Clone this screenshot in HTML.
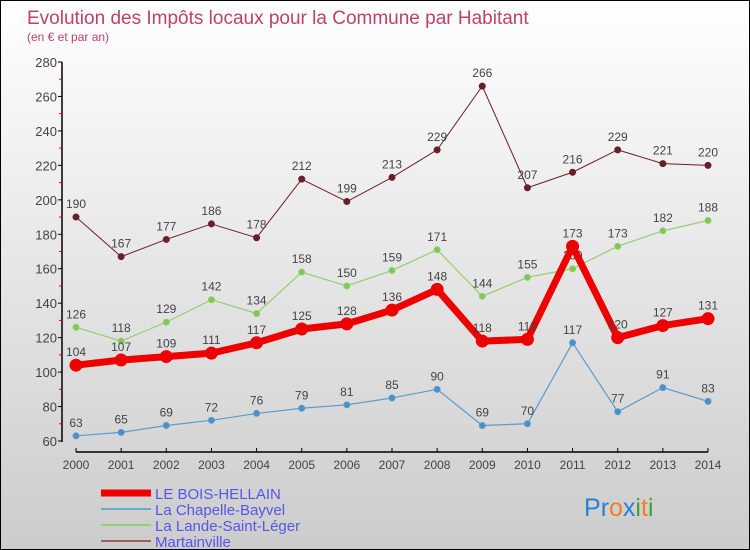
<!DOCTYPE html>
<html><head><meta charset="utf-8"><style>
body{margin:0}
#c{width:750px;height:550px;position:relative;box-sizing:border-box;border:1px solid #000;background:linear-gradient(#ffffff,#cccccc);font-family:"Liberation Sans",sans-serif;overflow:hidden}
svg text{font-family:"Liberation Sans",sans-serif}
</style></head><body>
<div id="c">
<svg id="s" width="750" height="550">
<text x="26" y="23" font-size="19" fill="#c0406a">Evolution des Impôts locaux pour la Commune par Habitant</text>
<text x="26" y="40" font-size="12" fill="#c0406a">(en € et par an)</text>
</svg>
</div>
<script>
const years=["2000","2001","2002","2003","2004","2005","2006","2007","2008","2009","2010","2011","2012","2013","2014"];
const yTicks=[60,80,100,120,140,160,180,200,220,240,260,280];
const boisHellain=[104,107,109,111,117,125,128,136,148,118,119,173,120,127,131];
const chapelle=[63,65,69,72,76,79,81,85,90,69,70,117,77,91,83];
const lande=[126,118,129,142,134,158,150,159,171,144,155,160,173,182,188];
const martainville=[190,167,177,186,178,212,199,213,229,266,207,216,229,221,220];
const NS="http://www.w3.org/2000/svg";
const s=document.getElementById('s');
const X=i=>75+i*(707-75)/14;
const Y=v=>440-(v-60)*(440-61)/220;
function el(t,a){const e=document.createElementNS(NS,t);for(const k in a)e.setAttribute(k,a[k]);s.appendChild(e);return e;}
let ax=el('line',{x1:61,y1:61,x2:61,y2:441,stroke:'#000','stroke-width':1.5});


ax=el('line',{x1:75,y1:451,x2:707,y2:451,stroke:'#000','stroke-width':1.5});


yTicks.forEach(v=>{
 el('line',{x1:57,y1:Y(v),x2:61,y2:Y(v),stroke:'#000'});
 if(v<280)el('line',{x1:58,y1:Y(v+10),x2:61,y2:Y(v+10),stroke:'#e00'});
 const t=el('text',{x:56,y:Y(v)+5,'font-size':13,fill:'#444','text-anchor':'end'});
 t.textContent=v;
 
 
});
years.forEach((y,i)=>{
 el('line',{x1:X(i),y1:447,x2:X(i),y2:451,stroke:'#000'});
 const t=el('text',{x:X(i),y:468,'font-size':12,fill:'#444','text-anchor':'middle'});
 t.textContent=y;
 
 
});
function series(d,col,dot,w,r,name){
 const p=el('polyline',{points:d.map((v,i)=>X(i)+','+Y(v)).join(' '),fill:'none',stroke:col,'stroke-width':w,'stroke-linejoin':'round'});
 
 
 d.forEach((v,i)=>{
  const c=el('circle',{cx:X(i),cy:Y(v),r:r,fill:dot,stroke:col,'stroke-width':1});
  
  
  const t=el('text',{x:X(i),y:Y(v)-9,'font-size':12,fill:'#444','text-anchor':'middle'});
  t.textContent=v;
  
  
 });
}
series(martainville,'#6b1f2a','#6b1f2a',1,3,'martainville');
series(lande,'#90d070','#80c850',1.2,3,'lande-saint-leger');
series(chapelle,'#5a9ccc','#4a90c8',1.2,3,'chapelle-bayvel');
series(boisHellain,'#ee0000','#ee0000',7,6,'le-bois-hellain');
const leg=[['LE BOIS-HELLAIN','#ee0000',7],['La Chapelle-Bayvel','#6aa8d0',2],['La Lande-Saint-Léger','#90d070',2],['Martainville','#9a6060',2]];
leg.forEach((l,i)=>{
 const y=492+i*16;
 const ln=el('line',{x1:100,y1:y,x2:150,y2:y,stroke:l[1],'stroke-width':l[2]});
 
 
 const t=el('text',{x:154,y:y+6,'font-size':15,fill:'#5555ee'});
 t.textContent=l[0];
 
 
});
const lg=el('text',{x:583,y:515,'font-size':25});


[['P','#2a7fd0'],['r','#2a7fd0'],['o','#f08020'],['x','#2a7fd0'],['i','#40a040'],['t','#f08020'],['i','#40a040']].forEach(c=>{const ts=document.createElementNS(NS,'tspan');ts.setAttribute('fill',c[1]);ts.textContent=c[0];lg.appendChild(ts);});
</script>
</body></html>
